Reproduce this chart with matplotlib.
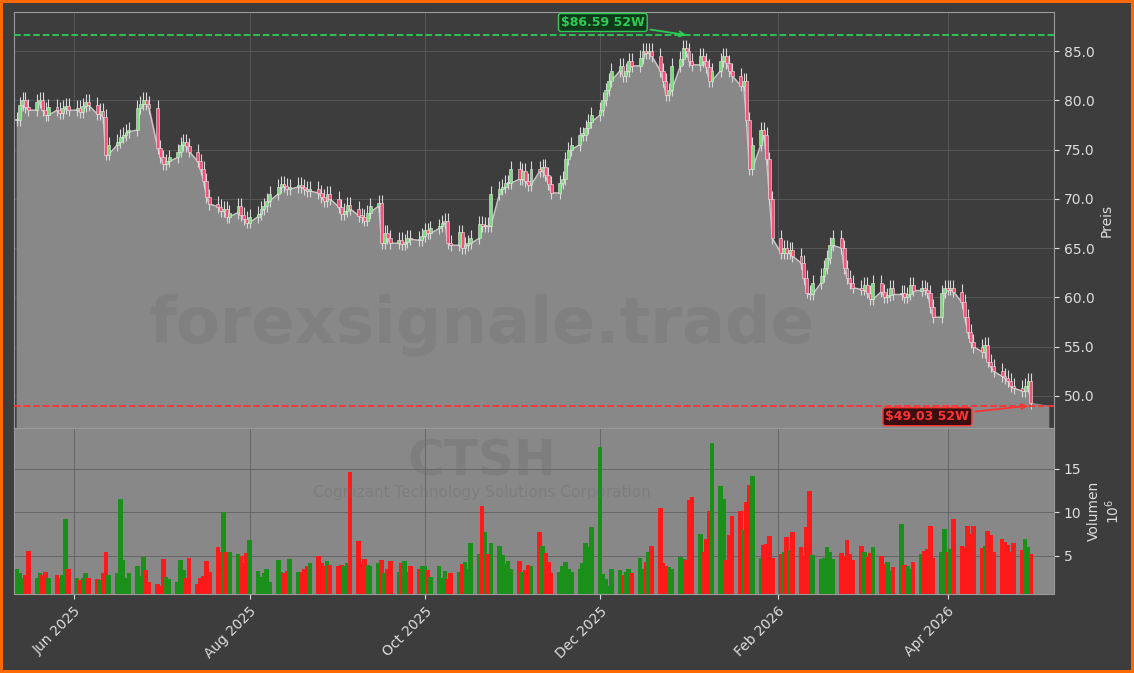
import matplotlib
matplotlib.use('Agg')
import matplotlib.pyplot as plt
import matplotlib.dates as mdates
import numpy as np
import pandas as pd

# Schlusskurse (aus dem Bild geschätzt)
schluss = [
    78, 79.5, 80, 79.3, 79, 79.8, 80, 79, 78.5, 79.3, 79, 78.7, 79.2, 79.4, 79,
    79.2, 78.8, 79.4, 79.8, 79.5, 78.6, 78.9, 78.3, 74.5, 75.5, 75.8, 76.3, 76.5, 76.8,
    77, 79.2, 79.6, 80, 79.6, 79.2, 75.2, 74.2, 73.5, 73.8, 74.2, 74.8,
    75.5, 75.8, 75.4, 74.8, 73.8, 73, 71.8, 70.2, 69.5, 69.2, 68.8, 69, 68.2, 68.6, 69.3, 68.4,
    68, 67.6, 68.2, 68.5, 69, 69.3, 69.8, 70.5, 71.2, 71.5, 71.3, 71.0, 71.2, 71.4,
    71.2, 71.0, 70.8, 71, 70.6, 70.2, 69.8, 70.5, 70, 69.2, 68.5, 68.8, 69.4, 69, 68.3, 68.2, 67.8, 68.6, 69.3, 69.6,
    65.5, 66.5, 66, 65.5, 65.8, 65.4, 65.6, 66.0, 65.9,
    65.8, 66.2, 66.8, 66.5, 67, 67.2, 67.6, 67.8, 65.5, 65.3, 66.6, 65, 65.3, 65.5, 66, 67.5, 67.2, 67.4, 67.2,
    70.5, 71, 71.2, 71.6, 71.6, 73, 72, 72.8, 71.8, 71.4, 73, 72.8, 73.2, 72.4, 71.5, 70.6, 71.6,
    72, 74, 75, 75.5, 76.5, 76.5, 77.2, 77.8, 78.5, 79, 80, 81, 82, 83, 83.5,
    82.5, 83, 84, 83.5, 84.3, 85, 84.8, 85, 84.5, 83, 82, 80.5, 81, 83.5, 84.2, 85.3, 85.0, 84, 83.6, 84.5,
    84, 83.4, 82, 83, 84, 84.5, 83.8, 83, 82.5, 81.5, 82, 78, 73, 75.5, 77,
    76.5, 74, 70, 66, 64.5, 65, 64.5, 64.8, 64.2, 63.5, 62, 60.5, 60.3, 61.5, 62.2,
    63, 64, 65.3, 66, 65, 63, 62, 61.5, 61, 60.8, 61.3, 60.5, 59.8, 61.5, 60.6,
    60, 60.2, 61, 60.3, 60.5, 60, 60.3, 61.3, 60.7, 61, 60.8, 60.5, 59, 58, 60.5, 61, 60.8, 61, 60.6, 59.5,
    58, 56.5, 55.5, 55, 54.5, 55.2, 53.5, 53, 52.5, 52, 51.8, 51.5, 51, 50.8, 50.5, 51, 51.5, 49.3,
]

# Volumen in Millionen
volumen = [
    3.5, 3, 2.5, 2.8, 5.6, 2.5, 3, 2.8, 3.2, 2.5, 2.8, 2.5, 2.8, 9.2, 3.5,
    2.5, 2.2, 2.5, 3, 2.5, 2.4, 2.2, 3, 5.4, 2.8, 3, 11.6, 4.5, 2.5,
    3, 3.8, 2.7, 4.9, 3.4, 2, 1.8, 1.6, 4.6, 2.6, 2.4, 2,
    4.5, 3.4, 2.5, 4.8, 1.8, 2.5, 2.7, 4.4, 3.2, 6, 5.5, 10.1, 5.4, 5.4, 5.2, 5,
    4.2, 5.3, 6.8, 3.3, 2.6, 3, 3.5, 2, 4.5, 3.2, 3, 3.3, 4.7, 3.2,
    3.2, 3.5, 3.8, 4.2, 5, 4.2, 3.9, 4.4, 4, 3.9, 4, 3.8, 4.2, 14.6, 6.7, 4.2, 4.6, 4, 3.8, 4.2,
    4.5, 3, 3.5, 4.4, 3.2, 4.2, 4.4, 3.2, 3.8,
    3.5, 3.8, 3.8, 3.4, 2.6, 3.8, 2.5, 3.3, 2.4, 3, 3.2, 4.1, 4.3, 3.5, 6.5, 5.2, 10.7, 7.7, 5.2,
    6.5, 6.2, 5.1, 4.1, 4.4, 3.5, 4.4, 3.2, 3.4, 4, 3.8, 7.8, 6.2, 5.3, 4.3, 3.1, 3.2,
    3.8, 4.3, 3.5, 3.2, 3.5, 4.2, 6.5, 6, 8.3, 17.5, 2.9, 2.3, 1.5, 3.5, 3.4,
    2.8, 3.2, 3.5, 3.1, 4.8, 3.5, 4.3, 5.5, 6.2, 10.5, 4.2, 3.9, 3.7, 3.5, 4.9, 4.7, 4.5, 11.4, 11.8, 7.5,
    5.5, 7, 10.2, 18, 13, 11.6, 4.5, 7.4, 9.6, 10.2, 8, 11.2, 13.1, 14.2, 4.8,
    6.3, 6.4, 7.3, 4.8, 5.2, 5.5, 7.2, 5.7, 7.7, 6, 5, 8.3, 12.5, 5.1, 4.7,
    4.8, 6, 5.5, 4.7, 5.3, 5, 6.8, 5.2, 4.5, 6.2, 5.5, 4.9, 5.3, 6, 5,
    4.1, 4.3, 3.3, 3.7, 8.7, 4, 3.8, 3.5, 4.3, 5.2, 5.6, 5.8, 8.4, 4.8, 5.5, 8.1, 5.5, 5.8, 9.2, 6.2,
    6, 8.5, 7.5, 8.4, 5.9, 6.2, 7.9, 7.4, 5.5, 7, 6.6, 6.3, 5.5, 6.5, 5.7, 7, 6, 5.2,
]

hoch_52w = 86.59
tief_52w = 49.03

datum = pd.bdate_range('2025-05-12', periods=len(schluss))
schluss = np.array(schluss)
eroeffnung = np.concatenate([[schluss[0]], schluss[:-1]])
hoch = np.maximum(eroeffnung, schluss) + 0.8
tief = np.minimum(eroeffnung, schluss) - 0.6
steigend = schluss >= eroeffnung

BG = '#3d3d3d'
fig = plt.figure(figsize=(11.34, 6.73), dpi=100, facecolor=BG,
                 edgecolor='#ff6a00', linewidth=4)
ax = fig.add_axes([0.0123, 0.364, 0.917, 0.618], facecolor=BG)
axv = fig.add_axes([0.0123, 0.117, 0.917, 0.247], facecolor='#888888', sharex=ax)

x = mdates.date2num(datum)
breite = 1.0
x_ende = x[-1] + 8

# Fläche unter dem Kurs, rechts flach bis kurz vor das Achsenende
unterkante = np.minimum(eroeffnung, schluss)
x_flaeche = np.append(x, x_ende - 2)
y_flaeche = np.append(unterkante, unterkante[-1] - 0.3)
ax.fill_between(x_flaeche, y_flaeche, 40, color='#888888', zorder=1)
ax.plot(x, unterkante, color='#c8c8c8', lw=1, zorder=2)

for xi, o, c, h, l, up in zip(x, eroeffnung, schluss, hoch, tief, steigend):
    col = '#7ddc7d' if up else '#ff4d7a'
    ax.vlines(xi, l, h, color='#d8d8d8', lw=0.8, zorder=3)
    ax.bar(xi, max(abs(c - o), 0.15), bottom=min(o, c), width=breite,
           color=col, edgecolor='#e8e8e8', lw=0.4, zorder=4)

ax.axhline(hoch_52w, color='#2ecc55', ls='--', lw=1.3, zorder=5)
ax.axhline(tief_52w, color='#ff3333', ls='--', lw=1.3, zorder=5)

i_hoch = int(np.argmax(hoch))
i_tief = len(x) - 1
ax.annotate(f'${hoch_52w:.2f} 52W', xy=(x[i_hoch] + 2, hoch_52w), xytext=(x[i_hoch] - 28, 87.9),
            color='#2ecc55', fontsize=9, fontweight='bold', ha='center', va='center',
            bbox=dict(boxstyle='round,pad=0.2', fc='#0e3a1a', ec='#2ecc55', lw=1),
            arrowprops=dict(arrowstyle='->', color='#2ecc55', lw=1.3), zorder=6)
ax.annotate(f'${tief_52w:.2f} 52W', xy=(x[i_tief], tief_52w), xytext=(x[i_tief] - 36, 47.9),
            color='#ff3333', fontsize=9, fontweight='bold', ha='center', va='center',
            bbox=dict(boxstyle='round,pad=0.2', fc='#3a0e0e', ec='#ff3333', lw=1),
            arrowprops=dict(arrowstyle='->', color='#ff3333', lw=1.3), zorder=6)

vol_farben = np.where(steigend, '#1a8f1a', '#ff1a1a')
axv.bar(x, volumen, width=1.6, color=vol_farben, zorder=2)

ax.set_ylim(46.75, 88.95)
axv.set_ylim(0.6, 19.7)
ax.set_xlim(x[0] - 1, x_ende)

for a in (ax, axv):
    a.yaxis.tick_right()
    a.yaxis.set_label_position('right')
    a.tick_params(colors='#dddddd', labelsize=10)
    a.grid(True, color='#5e5e5e', lw=0.7, alpha=0.8)
    a.set_axisbelow(True)
    for s in a.spines.values():
        s.set_color('#9a9a9a')
ax.yaxis.set_major_locator(matplotlib.ticker.MultipleLocator(5))
ax.yaxis.set_major_formatter(matplotlib.ticker.FormatStrFormatter('%.1f'))
axv.set_yticks([5, 10, 15])
ax.set_ylabel('Preis', color='#dddddd')
axv.set_ylabel('Volumen\n$10^6$', color='#dddddd')
plt.setp(ax.get_xticklabels(), visible=False)
axv.xaxis.set_major_locator(mdates.MonthLocator(bymonth=[2, 4, 6, 8, 10, 12]))
axv.xaxis.set_major_formatter(mdates.DateFormatter('%b %Y'))
plt.setp(axv.get_xticklabels(), rotation=45, ha='right', rotation_mode='anchor')

fig.text(0.425, 0.517, 'forexsignale.trade', fontsize=46, fontweight='bold',
         color='#6a6a6a', alpha=0.25, ha='center', va='center', zorder=0)
fig.text(0.425, 0.315, 'CTSH', fontsize=36, fontweight='bold',
         color='#6a6a6a', alpha=0.3, ha='center', va='center')
fig.text(0.425, 0.268, 'Cognizant Technology Solutions Corporation', fontsize=11,
         color='#6a6a6a', alpha=0.35, ha='center', va='center')

fig.savefig('out.png', dpi=100, facecolor=BG, edgecolor='#ff6a00')
